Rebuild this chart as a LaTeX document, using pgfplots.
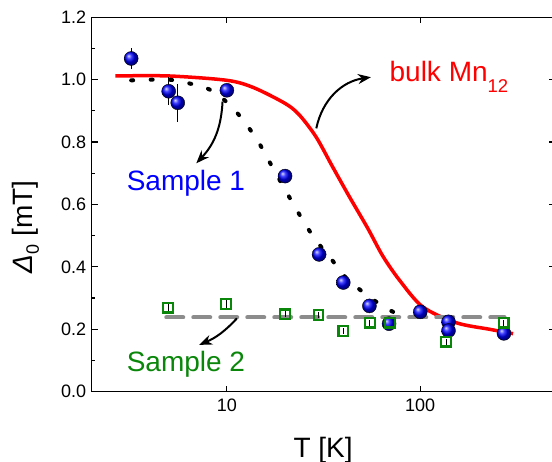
\documentclass[border=0pt]{standalone}
\usepackage{fontspec}
\setmainfont{Liberation Sans}
\usepackage{pgfplots}
\pgfplotsset{compat=1.18}
\usetikzlibrary{arrows.meta}

\definecolor{sgreen}{RGB}{10,135,10}
\definecolor{dgray}{RGB}{140,140,140}

\begin{document}
\begin{tikzpicture}
  \path[use as bounding box] (-91.7pt,-70.3pt) rectangle (460.3pt,391.7pt);
  \begin{axis}[
      at={(0,0)}, anchor=south west,
      scale only axis,
      width=463.7pt, height=374.4pt,
      xmode=log, log basis x=10,
      xmin=2, xmax=500,
      ymin=0, ymax=1.2,
      xtick={10,100}, xticklabels={10,100},
      ytick={0,0.2,0.4,0.6,0.8,1.0,1.2},
      minor y tick num=1,
      tick align=inside,
      major tick length=6pt, minor tick length=3.5pt,
      axis line style={line width=1.4pt},
      every tick/.style={black, line width=1.2pt},
      /pgf/number format/assume math mode=true,
      yticklabel style={/pgf/number format/fixed, /pgf/number format/precision=1,
        /pgf/number format/fixed zerofill},
      tick label style={font=\fontsize{18}{20}\selectfont},
      xticklabel style={yshift=-4pt},
      yticklabel style={xshift=-2pt},
      xlabel={T [K]},
      ylabel={\textit{Δ}\raisebox{-6pt}{\fontsize{18}{20}\selectfont 0} [mT]},
      label style={font=\fontsize{28}{30}\selectfont},
      xlabel style={at={(axis description cs:0.499,-0.175)}, anchor=base},
      ylabel style={at={(axis description cs:-0.142,0.44)}, anchor=center},
      clip=false,
    ]
    % bulk Mn12 curve
    \addplot[red, line width=3.5pt, smooth] coordinates {
      (2.65,1.012) (5,1.012) (10,0.998) (13.7,0.975) (20,0.924) (23.7,0.887)
      (28.9,0.817) (35.2,0.721) (43,0.625) (53.5,0.524) (64,0.435) (78.2,0.357)
      (103,0.272) (153.5,0.221) (228.6,0.200) (302,0.186)
    };
    % dotted guide for sample 1
    \addplot[black, line width=4pt, line cap=round, dash pattern=on 2pt off 17.5pt, smooth] coordinates {
      (3.2,0.998) (5,1.0) (6.6,0.986) (8.3,0.966) (10.4,0.918) (12.5,0.86)
      (14.7,0.796) (16.7,0.734) (21.7,0.609) (24.8,0.548) (28.8,0.486)
      (34.4,0.428) (41.5,0.364) (52.9,0.31) (66.5,0.268) (84.6,0.235)
    };
    % Sample 1
    \addplot[only marks, mark=ball, mark size=7pt, mark options={ball color=blue},
      error bars/.cd, y dir=both, y explicit, error mark=none,
      error bar style={black, line width=0.8pt}] coordinates {
      (3.2,1.068) +- (0,0.033)
      (5.0,0.963) +- (0,0.045)
      (5.57,0.926) +- (0,0.06)
      (10,0.966) +- (0,0.016)
      (20,0.691) +- (0,0.012)
      (30,0.44) +- (0,0.018)
      (40,0.35) +- (0,0.02)
      (54.6,0.275) +- (0,0.02)
      (69,0.218) +- (0,0.012)
      (100,0.256) +- (0,0.012)
      (140,0.224) +- (0,0.02)
      (140,0.196) +- (0,0.02)
      (271,0.187) +- (0,0.02)
    };
    % Sample 2 level
    \addplot[dgray, line width=4pt, line cap=round, dash pattern=on 17pt off 10pt] coordinates {
      (4.86,0.238) (273,0.238)
    };
    % Sample 2
    \addplot[only marks, mark=square, mark size=4.8pt,
      mark options={sgreen, line width=2.2pt, fill=white},
      error bars/.cd, y dir=both, y explicit, error mark=none,
      error bar style={black, line width=0.8pt}] coordinates {
      (4.97,0.269) +- (0,0.012)
      (9.9,0.281) +- (0,0.012)
      (20,0.248) +- (0,0.01)
      (29.8,0.246) +- (0,0.01)
      (40,0.195) +- (0,0.01)
      (54.9,0.221) +- (0,0.01)
      (69.9,0.221) +- (0,0.01)
      (136,0.160) +- (0,0.01)
      (270,0.221) +- (0,0.01)
    };
    % annotations
    \node[anchor=base west, blue, font=\fontsize{28}{30}\selectfont, inner sep=0pt]
      at (axis cs:3.03,0.644) {Sample 1};
    \node[anchor=base west, sgreen, font=\fontsize{28}{30}\selectfont, inner sep=0pt]
      at (axis cs:3.03,0.064) {Sample 2};
    \node[anchor=base west, red, font=\fontsize{28}{30}\selectfont, inner sep=0pt]
      at (axis cs:69.3,0.9936) {bulk Mn\raisebox{-11pt}{\fontsize{18.5}{20}\selectfont 12}};
    \draw[line width=2pt, -{Stealth[length=13pt,width=10pt]}]
      (axis cs:9.5,0.93) to[bend left=20] (axis cs:6.95,0.732);
    \draw[line width=2pt, -{Stealth[length=13pt,width=10pt]}]
      (axis cs:29,0.844) to[bend left=35] (axis cs:55.6,1.008);
    \draw[line width=2pt, -{Stealth[length=13pt,width=10pt]}]
      (axis cs:11.27,0.235) to[bend left=12] (axis cs:7.19,0.15);
  \end{axis}
\end{tikzpicture}
\end{document}
